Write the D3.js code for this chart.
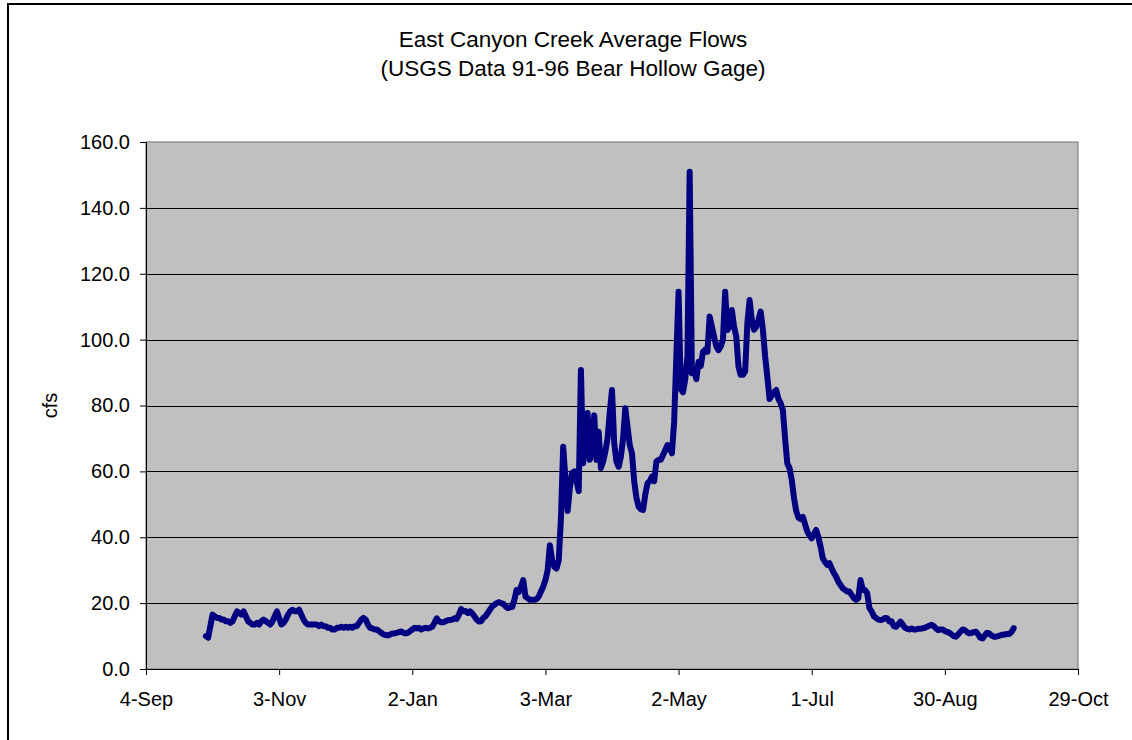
<!DOCTYPE html>
<html><head><meta charset="utf-8">
<script src="https://cdn.jsdelivr.net/npm/d3@7/dist/d3.min.js"></script>
<style>body{margin:0;background:#fff}svg{display:block;font-family:Arial,"Liberation Sans",sans-serif}</style>
</head><body><svg id="c" width="1132" height="740"></svg>
<script>
// ---- data (daily average flow, cfs, water year starting 1-Oct) ----
const titleLines = ["East Canyon Creek Average Flows", "(USGS Data 91-96 Bear Hollow Gage)"];
const yTitle = "cfs";
const firstDay = [1994, 9, 1]; // 1-Oct
const octFlow = [10.0,9.5,13,16.5,16,15.5,15.5,15,15,14.5,14.5,14,14.5,16,17.5,17,16.5,17.5,16,14.5,14,13.5,13.5,14,13.5,14.5,15,14.5,14,13.5,14.5];
const novFlow = [16,17.5,15.5,13.5,14,15,16.5,17.5,18,17.5,17.5,18,16.5,15,14,13.5,13.5,13.5,13.5,13.5,13,13.5,13,13,12.5,12.5,12,12,12.5,12.5];
const decFlow = [12.8,12.5,12.8,12.5,12.8,12.5,13,13,14,15,15.5,15,13.5,12.5,12.3,12,12,11.5,11,10.5,10.3,10.2,10.5,10.8,10.8,11,11.2,11.4,11,10.8,11];
const janFlow = [11.5,12,12.5,12.3,12.5,12,12.3,12.5,12.3,12.5,12.8,14,15.4,14.5,14.2,14.2,14.5,14.8,14.9,15,15.4,15.2,16.5,18.2,17.5,17.6,17,17.5,16.9,16,15];
const febFlow = [14.4,14.5,15.5,16,17,18,19,19.5,20,20.3,20,19.8,19,18.5,18.7,18.8,21,24,23.4,25,27,22,21.5,21,21,21,21.2,22];
const marFlow = [23.5,25,27,30,37.6,33,31,30.5,33,46,67.5,58,48,55,59.5,60,57,54,90.8,62.5,70,77.7,63.5,68,77,63.5,72,61,63,66,70];
const aprFlow = [78,84.7,68.6,63,61.4,64.5,70,79.2,73.6,68,65.5,57,52,49.3,48.5,48.3,53,56.4,57,58.4,57,63,63.5,63.5,65,66.5,68,67,65.5,75];
const mayFlow = [95,114.5,85,84,88,95,151,89.8,90.8,88,93.3,92,96.3,97,96.3,107,104,100.9,98,96.8,97.9,100,114.5,102.9,104,109,104,100.9,91.8,89.3,89.3];
const junFlow = [90.3,105,112,106,103,104,106,108.5,103,95,88.7,82,83,84,84.7,82,80.7,78.6,70,62.4,61,57.4,52,48,46,45.5,46.2,44,41.7,40.5];
const julFlow = [39.7,41,42.2,40,37.1,33.6,32.5,31.6,32.1,30.5,29.1,28,26.5,25.5,24.5,24,23.5,23.5,22.5,21.5,21,21.5,27,24,24,23,18.5,17.5,16,15.5,15];
const augFlow = [14.9,15,15.5,15.4,14.4,14.5,13,12.8,13.5,14.4,13.5,12.5,12.2,12,12.3,12,12,12.2,12.2,12.4,12.5,12.8,13.2,13.4,13,12.3,11.8,12,12,11.5,11.3];
const sepFlow = [11,10.5,10,9.8,10.5,11.3,12,11.8,11.2,10.8,11,11.2,11.3,10.5,9.5,9.3,10.2,11,10.8,10.2,9.8,9.8,10,10.2,10.4,10.5,10.6,10.6,11.2,12.4];
const xTickLabels = ["4-Sep","3-Nov","2-Jan","3-Mar","2-May","1-Jul","30-Aug","29-Oct"];
const xTickStart = [1994, 8, 4];
const xTickStepDays = 60;
const yTicks = [0,20,40,60,80,100,120,140,160];

// ---- build ----
const flows = [].concat(octFlow,novFlow,decFlow,janFlow,febFlow,marFlow,aprFlow,mayFlow,junFlow,julFlow,augFlow,sepFlow);
const DAY = 86400000;
const t0 = Date.UTC(...firstDay);
const series = flows.map((v,i)=>({date:new Date(t0 + i*DAY), v}));
const tickDates = xTickLabels.map((l,i)=>new Date(Date.UTC(...xTickStart) + i*xTickStepDays*DAY));

const svg = d3.select("#c");
const L=146, R=1078, T=142, B=669;
const FONT = "Arial, 'Liberation Sans', sans-serif";

svg.append("rect").attr("x",8).attr("y",4).attr("width",1140).attr("height",760)
  .attr("fill","#fff").attr("stroke","#000").attr("stroke-width",2);

const x = d3.scaleUtc().domain([tickDates[0], tickDates[tickDates.length-1]]).range([L,R]);
const y = d3.scaleLinear().domain([0,160]).range([B,T]);

svg.append("rect").attr("x",L).attr("y",T).attr("width",R-L).attr("height",B-T)
  .attr("fill","#c0c0c0").attr("stroke","#808080").attr("stroke-width",1.2);

// gridlines
svg.append("g").selectAll("line").data(yTicks.filter(d=>d>0 && d<160)).join("line")
  .attr("x1",L).attr("x2",R).attr("y1",d=>Math.round(y(d))+0.5).attr("y2",d=>Math.round(y(d))+0.5)
  .attr("stroke","#000").attr("stroke-width",1);

// y axis
const yAxis = d3.axisLeft(y).tickValues(yTicks).tickFormat(d3.format(".1f")).tickSize(6).tickPadding(10);
const gy = svg.append("g").attr("transform",`translate(${L},0)`).call(yAxis);
gy.select(".domain").attr("stroke","#000");
gy.selectAll(".tick line").attr("stroke","#000");
gy.selectAll("text").attr("font-size",20).attr("fill","#000").attr("font-family",FONT);

// x axis
const xAxis = d3.axisBottom(x).tickValues(tickDates).tickFormat((d,i)=>xTickLabels[i]).tickSize(6).tickPadding(17);
const gx = svg.append("g").attr("transform",`translate(0,${B})`).call(xAxis);
gx.select(".domain").attr("stroke","#000");
gx.selectAll(".tick line").attr("stroke","#000");
gx.selectAll("text").attr("font-size",20).attr("fill","#000").attr("font-family",FONT);

// line
svg.append("path").datum(series)
  .attr("fill","none").attr("stroke","#000080").attr("stroke-width",6)
  .attr("stroke-linejoin","round").attr("stroke-linecap","round")
  .attr("d", d3.line().x(d=>x(d.date)).y(d=>y(d.v)));

// titles
svg.append("g").selectAll("text").data(titleLines).join("text")
  .attr("x",573).attr("y",(d,i)=>47+i*29).attr("text-anchor","middle")
  .attr("font-size",22.5).attr("fill","#000").attr("font-family",FONT).text(d=>d);

svg.append("text").attr("transform",`translate(57,${(T+B)/2}) rotate(-90)`)
  .attr("text-anchor","middle").attr("font-size",20).attr("fill","#000").attr("font-family",FONT).text(yTitle);
</script></body></html>
